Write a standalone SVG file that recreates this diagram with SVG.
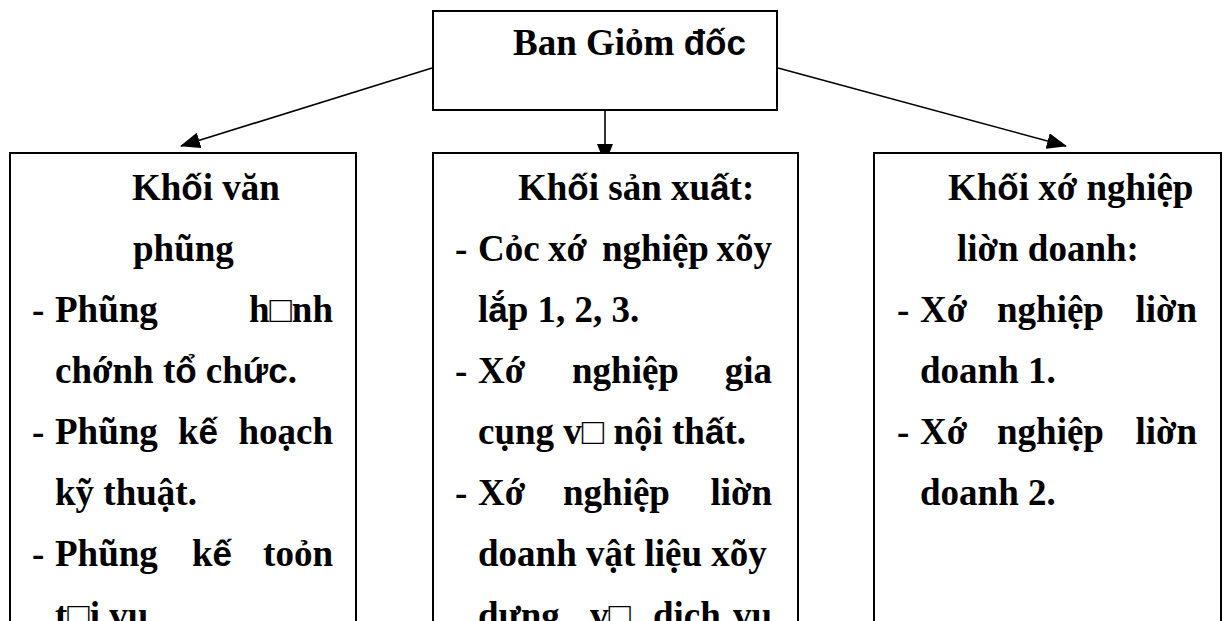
<svg xmlns="http://www.w3.org/2000/svg" width="1227" height="621" viewBox="0 0 1227 621">
<style>
.box{fill:#fff;stroke:#000;stroke-width:2}
.t{font-family:"Liberation Serif","Times New Roman",serif;font-weight:bold;font-size:37px;fill:#000}
.s{font-family:"Liberation Sans",Arial,sans-serif;font-size:35px}
.e{text-anchor:end}
.c{fill:none;stroke:#000;stroke-width:1.6}
</style>
<defs>
<marker id="ah" markerUnits="userSpaceOnUse" markerWidth="20" markerHeight="16" viewBox="0 0 20 16" refX="19" refY="8" orient="auto">
<path d="M0,0 L20,8 L0,16 Z" fill="#000"/>
</marker>
</defs>
<g id="connectors">
<line class="c" x1="432" y1="68" x2="181" y2="146" marker-end="url(#ah)"/>
<line class="c" x1="605" y1="110" x2="605" y2="163" marker-end="url(#ah)"/>
<line class="c" x1="778" y1="68" x2="1066" y2="146" marker-end="url(#ah)"/>
</g>
<g id="ban-giam-doc">
<rect class="box" x="433" y="11" width="344" height="99"/>
<text class="t" x="513" y="55">Ban Giỏm <tspan class="s">đốc</tspan></text>
</g>
<g id="khoi-van-phong">
<rect class="box" x="10" y="153" width="346" height="490"/>
<text class="t" x="132" y="200">Kh<tspan class="s">ố</tspan>i văn</text>
<text class="t" x="133" y="261">phũng</text>
<text class="t" x="32" y="322">-</text><text class="t" x="55" y="322">Phũng</text><text class="t e" x="333" y="322">h□nh</text>
<text class="t" x="55" y="383">chớnh t<tspan class="s">ổ</tspan> ch<tspan class="s">ức</tspan>.</text>
<text class="t" x="32" y="444">-</text><text class="t" x="55" y="444">Phũng</text><text class="t" x="178" y="444">k<tspan class="s">ế</tspan></text><text class="t e" x="333" y="444">hoạch</text>
<text class="t" x="55" y="505">kỹ thuật.</text>
<text class="t" x="32" y="566">-</text><text class="t" x="55" y="566">Phũng</text><text class="t" x="192" y="566">k<tspan class="s">ế</tspan></text><text class="t e" x="333" y="566">toỏn</text>
<text class="t" x="55" y="628">t□i vụ</text>
</g>
<g id="khoi-san-xuat">
<rect class="box" x="433" y="153" width="365" height="490"/>
<text class="t" x="518" y="200">Kh<tspan class="s">ố</tspan>i sản xu<tspan class="s">ấ</tspan>t:</text>
<text class="t" x="455" y="261">-</text><text class="t" x="478" y="261">Cỏc</text><text class="t" x="548" y="261">xớ</text><text class="t" x="602" y="261">nghiệp</text><text class="t e" x="772" y="261">xõy</text>
<text class="t" x="478" y="322">l<tspan class="s">ắ</tspan>p 1, 2, 3.</text>
<text class="t" x="455" y="383">-</text><text class="t" x="478" y="383">Xớ</text><text class="t" x="572" y="383">nghiệp</text><text class="t e" x="772" y="383">gia</text>
<text class="t" x="478" y="444">cụng v□ nội th<tspan class="s">ấ</tspan>t.</text>
<text class="t" x="455" y="505">-</text><text class="t" x="478" y="505">Xớ</text><text class="t" x="563" y="505">nghiệp</text><text class="t e" x="772" y="505">liờn</text>
<text class="t" x="478" y="566">doanh vật liệu xõy</text>
<text class="t" x="478" y="628">dựng</text><text class="t" x="590" y="628">v□</text><text class="t" x="653" y="628">dịch</text><text class="t e" x="772" y="628">vụ</text>
</g>
<g id="khoi-xi-nghiep-lien-doanh">
<rect class="box" x="874" y="153" width="347" height="490"/>
<text class="t" x="948" y="200">Kh<tspan class="s">ố</tspan>i xớ nghiệp</text>
<text class="t" x="957" y="261">liờn doanh:</text>
<text class="t" x="897" y="322">-</text><text class="t" x="920" y="322">Xớ</text><text class="t" x="997" y="322">nghiệp</text><text class="t e" x="1197" y="322">liờn</text>
<text class="t" x="920" y="383">doanh 1.</text>
<text class="t" x="897" y="444">-</text><text class="t" x="920" y="444">Xớ</text><text class="t" x="997" y="444">nghiệp</text><text class="t e" x="1197" y="444">liờn</text>
<text class="t" x="920" y="505">doanh 2.</text>
</g>
</svg>
